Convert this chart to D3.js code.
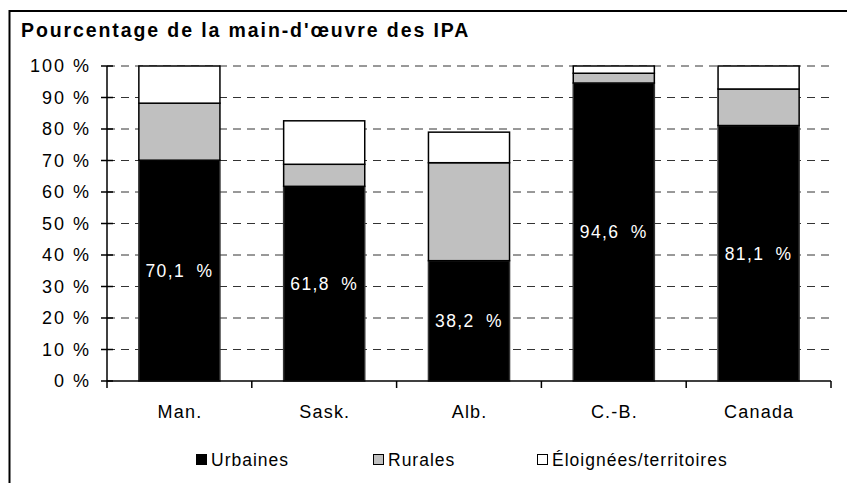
<!DOCTYPE html>
<html>
<head>
<meta charset="utf-8">
<script src="https://cdn.jsdelivr.net/npm/d3@7"></script>
<style>
  html, body { margin: 0; padding: 0; background: #fff; }
  svg { display: block; font-family: "Liberation Sans", Arial, sans-serif; }
</style>
</head>
<body>
<svg id="chart" width="847" height="483"></svg>
<script>
const title = "Pourcentage de la main-d'œuvre des IPA";
const categories = ["Man.", "Sask.", "Alb.", "C.-B.", "Canada"];
const urbaines = [70.1, 61.8, 38.2, 94.6, 81.1];
const rurales = [18.1, 7.0, 31.1, 3.1, 11.6];
const eloignees = [11.8, 13.8, 9.7, 2.3, 7.3];
const seriesNames = ["Urbaines", "Rurales", "Éloignées/territoires"];
const seriesColors = ["#000000", "#c0c0c0", "#ffffff"];
const yTicks = [0, 10, 20, 30, 40, 50, 60, 70, 80, 90, 100];

const svg = d3.select("#chart");
const W = 847, H = 483;
const m = { left: 107, right: 831, top: 66, bottom: 381 };

// frame
svg.append("path")
  .attr("d", `M9.5,${H} L9.5,11 L${W},11`)
  .attr("fill", "none").attr("stroke", "#000").attr("stroke-width", 2);

// title
svg.append("text").attr("x", 21).attr("y", 37)
  .attr("font-weight", "bold").attr("font-size", 19.5).attr("letter-spacing", 1.9).attr("fill", "#000")
  .text(title);

const x = d3.scaleBand().domain(categories).range([m.left, m.right]).padding(0);
const y = d3.scaleLinear().domain([0, 100]).range([m.bottom, m.top]);
const barW = x.bandwidth() * 0.56;

// gridlines
svg.append("g").selectAll("line").data(yTicks.filter(d => d > 0)).join("line")
  .attr("x1", m.left).attr("x2", m.right)
  .attr("y1", d => y(d)).attr("y2", d => y(d))
  .attr("stroke", "#333").attr("stroke-width", 1)
  .attr("stroke-dasharray", "8,6");

// stacked data
const rows = categories.map((c, i) => ({ cat: c, Urbaines: urbaines[i], Rurales: rurales[i], "Éloignées/territoires": eloignees[i] }));
const stack = d3.stack().keys(seriesNames)(rows);

const gBars = svg.append("g");
stack.forEach((layer, li) => {
  gBars.selectAll(null).data(layer).join("rect")
    .attr("x", d => x(d.data.cat) + (x.bandwidth() - barW) / 2)
    .attr("width", barW)
    .attr("y", d => y(d[1]))
    .attr("height", d => y(d[0]) - y(d[1]))
    .attr("fill", seriesColors[li])
    .attr("stroke", li === 0 ? "#333" : "#000")
    .attr("stroke-width", 1.5);
});

// data labels
svg.append("g").selectAll("text").data(stack[0]).join("text")
  .attr("x", d => x(d.data.cat) + x.bandwidth() / 2)
  .attr("y", d => y((d[0] + d[1]) / 2))
  .attr("dy", "0.36em")
  .attr("text-anchor", "middle")
  .attr("font-size", 17.5).attr("letter-spacing", 1.4).attr("word-spacing", 5).attr("fill", "#fff")
  .text(d => d3.format(".1f")(d[1] - d[0]).replace(".", ",") + " %");

// y axis
const yAxis = svg.append("g");
yAxis.append("line").attr("x1", m.left).attr("x2", m.left)
  .attr("y1", y(100)).attr("y2", y(0)).attr("stroke", "#000").attr("stroke-width", 1.5);
yAxis.selectAll("line.t").data(yTicks).join("line").attr("class", "t")
  .attr("x1", m.left - 6).attr("x2", m.left + 6)
  .attr("y1", d => y(d)).attr("y2", d => y(d))
  .attr("stroke", "#000").attr("stroke-width", 1.5);
yAxis.selectAll("text").data(yTicks).join("text")
  .attr("x", 91).attr("y", d => y(d)).attr("dy", "0.36em")
  .attr("text-anchor", "end").attr("font-size", 18).attr("letter-spacing", 2).attr("fill", "#000")
  .text(d => d + " %");

// x axis
const xAxis = svg.append("g");
xAxis.append("line").attr("x1", m.left).attr("x2", m.right)
  .attr("y1", m.bottom).attr("y2", m.bottom).attr("stroke", "#000").attr("stroke-width", 1.5);
const edges = categories.map(c => x(c)).concat([m.right]);
xAxis.selectAll("line.t").data(edges).join("line").attr("class", "t")
  .attr("x1", d => d).attr("x2", d => d)
  .attr("y1", m.bottom).attr("y2", m.bottom + 7)
  .attr("stroke", "#000").attr("stroke-width", 1.5);
xAxis.selectAll("text").data(categories).join("text")
  .attr("x", d => x(d) + x.bandwidth() / 2 + 0.6).attr("y", 418)
  .attr("text-anchor", "middle").attr("font-size", 18).attr("letter-spacing", 1.2).attr("fill", "#000")
  .text(d => d);

// legend
const legendX = [196, 373, 537];
const lg = svg.append("g");
seriesNames.forEach((name, i) => {
  lg.append("rect").attr("x", legendX[i] + 0.5).attr("y", 454.5).attr("width", 10).attr("height", 10)
    .attr("fill", seriesColors[i]).attr("stroke", "#000").attr("stroke-width", 1);
  lg.append("text").attr("x", legendX[i] + 15).attr("y", 466)
    .attr("font-size", 17.5).attr("letter-spacing", 1).attr("fill", "#000").text(name);
});
</script>
</body>
</html>
